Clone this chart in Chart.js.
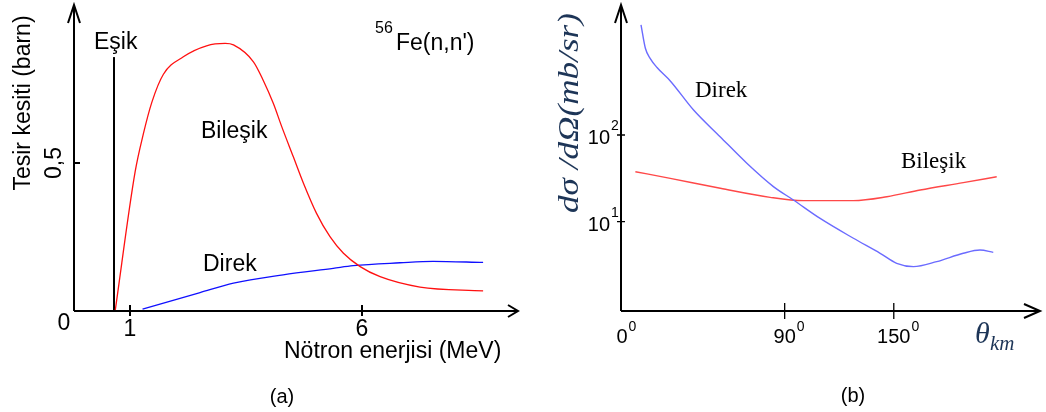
<!DOCTYPE html>
<html>
<head>
<meta charset="utf-8">
<script src="https://cdn.jsdelivr.net/npm/chart.js@4.4.0/dist/chart.umd.min.js"></script>
<style>
body { margin: 0; background: #fff; width: 1046px; height: 412px; overflow: hidden; position: relative; }
canvas { position: absolute; top: 0; }
#chartA { left: 0; }
#chartB { left: 523px; }
</style>
</head>
<body>
<canvas id="chartA" width="523" height="412"></canvas>
<canvas id="chartB" width="523" height="412"></canvas>
<script>
// (a) 56Fe(n,n') cross section vs neutron energy
var energyBilesik = [0.68, 1.11, 1.29, 1.47, 1.72, 2.15, 2.65, 3.05, 3.23, 3.66, 3.87, 4.09, 4.27, 4.52, 4.74, 5.02, 5.31, 5.60, 5.96, 6.39, 7.25, 8.61];
var sigmaBilesik  = [0, 0.47, 0.60, 0.705, 0.800, 0.859, 0.896, 0.904, 0.899, 0.842, 0.780, 0.701, 0.623, 0.521, 0.431, 0.330, 0.251, 0.195, 0.150, 0.116, 0.081, 0.068];
var energyDirek = [1.27, 2.51, 3.23, 4.30, 5.38, 5.81, 6.82, 7.53, 8.61];
var sigmaDirek  = [0.006, 0.062, 0.094, 0.122, 0.144, 0.153, 0.163, 0.168, 0.164];
var esikEnergy = 0.655;
var esikTop = 0.858;
var xTicksA = [1, 6];
var yTicksA = [0.5];
var yTickLabelsA = ['0,5'];

// (b) angular distribution
var angleDirek = [11, 13.4, 16.1, 19.8, 27.1, 39.9, 54.5, 69.2, 83.8, 94.8, 109.5, 127.8, 142.5, 151.6, 160.8, 173.6, 188.2, 197.4, 204.7];
var dsDirek    = [1862, 1000, 760, 600, 420, 194, 95.6, 47.2, 25.4, 17.8, 10.9, 6.44, 4.32, 3.31, 3.03, 3.46, 4.32, 4.71, 4.43];
var angleBilesik = [7.9, 27.1, 54.6, 82.0, 100.3, 127.8, 146.2, 164.5, 188.2, 206.6];
var dsBilesik    = [37.7, 31.6, 24.3, 19.1, 17.5, 17.5, 19.4, 23.2, 28.2, 33.0];
var xTicksB = [0, 90, 150];
var yTicksB = [10, 100];
var yTickExpB = ['1', '2'];

var SANS = '"Liberation Sans", Arial, sans-serif';
var SERIF = '"Liberation Serif", "Times New Roman", serif';

function pts(xs, ys) {
  return xs.map(function (x, i) { return { x: x, y: ys[i] }; });
}

function axesWithArrows(ctx, a, yArm, yLen, xArm, xLen) {
  ctx.strokeStyle = '#000';
  ctx.lineWidth = 2;
  ctx.beginPath();
  ctx.moveTo(a.left, a.bottom); ctx.lineTo(a.left, a.top);
  ctx.moveTo(a.left, a.bottom); ctx.lineTo(a.right, a.bottom);
  ctx.moveTo(a.left - yArm, a.top + yLen); ctx.lineTo(a.left, a.top); ctx.lineTo(a.left + yArm, a.top + yLen);
  ctx.moveTo(a.right - xLen, a.bottom - xArm); ctx.lineTo(a.right, a.bottom); ctx.lineTo(a.right - xLen, a.bottom + xArm);
  ctx.stroke();
}

function text(ctx, s, x, y, font, align, color) {
  ctx.font = font;
  ctx.textAlign = align || 'left';
  ctx.fillStyle = color || '#000';
  ctx.fillText(s, x, y);
}

var decorA = {
  id: 'decorA',
  afterDraw: function (chart) {
    var ctx = chart.ctx, a = chart.chartArea;
    var sx = chart.scales.x, sy = chart.scales.y;
    ctx.save();
    axesWithArrows(ctx, a, 6, 18, 6, 10);
    ctx.lineWidth = 2;
    ctx.beginPath();
    xTicksA.forEach(function (v) {
      var px = sx.getPixelForValue(v);
      ctx.moveTo(px, a.bottom - 6); ctx.lineTo(px, a.bottom + 5);
    });
    yTicksA.forEach(function (v) {
      var py = sy.getPixelForValue(v);
      ctx.moveTo(a.left - 1, py); ctx.lineTo(a.left + 6, py);
    });
    ctx.stroke();
    ctx.textBaseline = 'alphabetic';
    var f = '23px ' + SANS;
    text(ctx, '0', a.left - 10, 330, f, 'center');
    xTicksA.forEach(function (v) {
      text(ctx, String(v), sx.getPixelForValue(v), 336, f, 'center');
    });
    text(ctx, 'Nötron enerjisi (MeV)', 284, 358, f, 'left');
    text(ctx, 'Eşik', 94, 49, f, 'left');
    text(ctx, '56', 375, 33, '16px ' + SANS, 'left');
    text(ctx, "Fe(n,n')", 396, 50, f, 'left');
    text(ctx, 'Bileşik', 201, 138, f, 'left');
    text(ctx, 'Direk', 203, 271, f, 'left');
    text(ctx, '(a)', 282, 403, '20px ' + SANS, 'center');
    // rotated texts
    yTicksA.forEach(function (v, i) {
      ctx.save();
      ctx.translate(61, sy.getPixelForValue(v));
      ctx.rotate(-Math.PI / 2);
      text(ctx, yTickLabelsA[i], 0, 0, f, 'center');
      ctx.restore();
    });
    ctx.save();
    ctx.translate(30, 103);
    ctx.rotate(-Math.PI / 2);
    text(ctx, 'Tesir kesiti (barn)', 0, 0, f, 'center');
    ctx.restore();
    ctx.restore();
  }
};

var decorB = {
  id: 'decorB',
  afterDraw: function (chart) {
    var ctx = chart.ctx, a = chart.chartArea;
    var sx = chart.scales.x, sy = chart.scales.y;
    var off = 523;
    ctx.save();
    axesWithArrows(ctx, a, 6, 18, 7, 16);
    ctx.lineWidth = 1.3;
    ctx.beginPath();
    xTicksB.forEach(function (v) {
      if (v === 0) return;
      var px = sx.getPixelForValue(v);
      ctx.moveTo(px, a.bottom - 8); ctx.lineTo(px, a.bottom + 8);
    });
    yTicksB.forEach(function (v) {
      var py = sy.getPixelForValue(v);
      ctx.moveTo(a.left - 4, py); ctx.lineTo(a.left + 4, py);
    });
    ctx.stroke();
    ctx.textBaseline = 'alphabetic';
    var f = '20px ' + SANS, fs = '14px ' + SANS;
    xTicksB.forEach(function (v) {
      var px = sx.getPixelForValue(v) + (v === 0 ? 1 : 0);
      ctx.font = f;
      var w = ctx.measureText(String(v)).width;
      text(ctx, String(v), px, 343, f, 'center');
      text(ctx, '0', px + w / 2 + 1, 331, fs, 'left');
    });
    yTicksB.forEach(function (v, i) {
      var py = sy.getPixelForValue(v);
      text(ctx, '10', 610 - off, py + 9, f, 'right');
      text(ctx, yTickExpB[i], 611 - off, py - 5, fs, 'left');
    });
    var mc = '#1d3557';
    text(ctx, 'θ', 975 - off, 343, 'italic 30px ' + SERIF, 'left', mc);
    text(ctx, 'km', 990 - off, 350, 'italic 21px ' + SERIF, 'left', mc);
    text(ctx, 'Direk', 695 - off, 97, '23px ' + SERIF, 'left');
    text(ctx, 'Bileşik', 901 - off, 168, '23px ' + SERIF, 'left');
    text(ctx, '(b)', 853 - off, 402, '20px ' + SANS, 'center');
    // y title, stretched to the reference length
    ctx.save();
    ctx.translate(578 - off, 113);
    ctx.rotate(-Math.PI / 2);
    ctx.font = 'italic 30px ' + SERIF;
    var t = 'dσ /dΩ(mb/sr)';
    var tw = ctx.measureText(t).width;
    ctx.scale(200 / tw, 1);
    text(ctx, t, 0, 0, ctx.font, 'center', mc);
    ctx.restore();
    ctx.restore();
  }
};

new Chart(document.getElementById('chartA'), {
  type: 'line',
  data: {
    datasets: [
      { data: pts(energyBilesik, sigmaBilesik), borderColor: '#ff1010', borderWidth: 1.3, cubicInterpolationMode: 'monotone', pointRadius: 0 },
      { data: pts(energyDirek, sigmaDirek), borderColor: '#1010ff', borderWidth: 1.3, cubicInterpolationMode: 'monotone', pointRadius: 0 },
      { data: pts([esikEnergy, esikEnergy], [0, esikTop]), borderColor: '#000', borderWidth: 2, pointRadius: 0 }
    ]
  },
  options: {
    responsive: false,
    animation: false,
    devicePixelRatio: 1,
    layout: { padding: { left: 74, right: 5, top: 5, bottom: 101 } },
    plugins: { legend: { display: false }, tooltip: { enabled: false } },
    scales: {
      x: { type: 'linear', display: false, min: -0.207, max: 9.362 },
      y: { type: 'linear', display: false, min: 0, max: 1.034 }
    }
  },
  plugins: [decorA]
});

new Chart(document.getElementById('chartB'), {
  type: 'line',
  data: {
    datasets: [
      { data: pts(angleDirek, dsDirek), borderColor: '#6b6bff', borderWidth: 1.4, cubicInterpolationMode: 'monotone', pointRadius: 0 },
      { data: pts(angleBilesik, dsBilesik), borderColor: '#ff4848', borderWidth: 1.4, cubicInterpolationMode: 'monotone', pointRadius: 0 }
    ]
  },
  options: {
    responsive: false,
    animation: false,
    devicePixelRatio: 1,
    layout: { padding: { left: 98, right: 6, top: 5, bottom: 101 } },
    plugins: { legend: { display: false }, tooltip: { enabled: false } },
    scales: {
      x: { type: 'linear', display: false, min: 0, max: 230.4 },
      y: { type: 'logarithmic', display: false, min: 0.933, max: 3157 }
    }
  },
  plugins: [decorB]
});
</script>
</body>
</html>
